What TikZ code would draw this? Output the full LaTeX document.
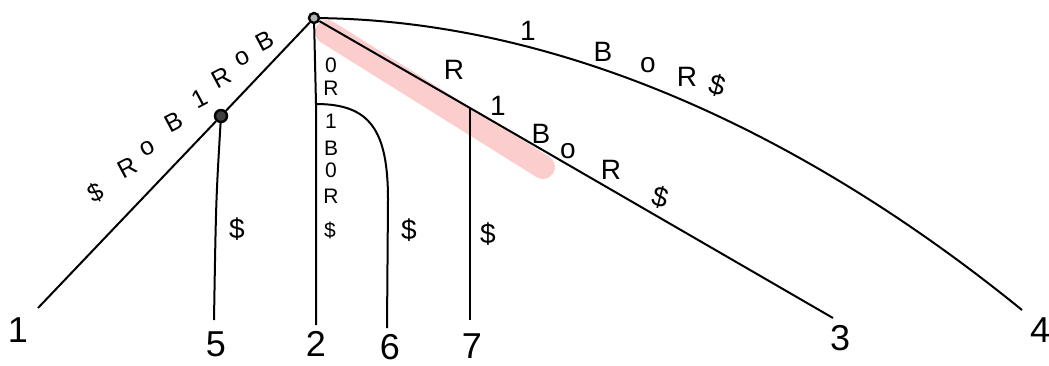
\documentclass[tikz,border=0pt]{standalone}
\usepackage{fontspec}
\setmainfont{Liberation Sans}
\begin{document}
\begin{tikzpicture}[x=1pt,y=-1pt,
  edge/.style={line width=2pt, black},
  lbl/.style={font=\fontsize{28}{30}\selectfont, inner sep=0},
  llbl/.style={font=\fontsize{25}{27}\selectfont, inner sep=0, rotate=28},
  col/.style={font=\fontsize{21}{23}\selectfont, inner sep=0},
  leaf/.style={font=\fontsize{36}{38}\selectfont, inner sep=0},
  inode/.style={circle, draw, inner sep=0, minimum size=10pt, line width=2.4pt},
  hl/.style={line width=24pt, line cap=round, draw={rgb,255:red,252;green,205;blue,205}}]
\useasboundingbox (0,0) rectangle (1049,365);
\fill[white] (0,0) rectangle (1049,365);
% highlight
\draw[hl] (327,32) -- (543,167);
% nodes
\node[inode, fill=black!30] (r) at (314,18) {};
\node[inode, fill=black!75, minimum size=12pt] (a) at (221,116) {};
\coordinate (b) at (316,104);
\coordinate (c) at (470,108);
\coordinate (l1) at (38,308);
\coordinate (l5) at (214,320);
\coordinate (l2) at (316,325);
\coordinate (l6) at (387,328);
\coordinate (l7) at (470,320);
\coordinate (l3) at (833,318);
\coordinate (l4) at (1022,310);
% leaf numbers
\node[leaf] (n1) at (18,330) {1};
\node[leaf] (n5) at (216,344) {5};
\node[leaf] (n2) at (316,344) {2};
\node[leaf] (n6) at (390,347) {6};
\node[leaf] (n7) at (472,346) {7};
\node[leaf] (n3) at (840,338) {3};
\node[leaf] (n4) at (1040,330) {4};
% edges
\draw[edge] (r) -- (a) -- (l1);
\draw[edge] (a) .. controls (216,200) .. (l5);
\draw[edge] (r) -- (b) -- (l2);
\draw[edge] (b) .. controls (370,104) and (388,130) .. (388,200) -- (l6);
\draw[edge] (r) -- (c) -- (l3);
\draw[edge] (c) -- (l7);
\draw[edge] (r) .. controls (600,22) and (850,170) .. (l4);
% left edge labels
\node[llbl] (e1) at (96,193) {\$};
\node[llbl] (e2) at (127,168) {R};
\node[llbl] (e3) at (148,148) {o};
\node[llbl] (e4) at (174,122) {B};
\node[llbl] (e5) at (200,99) {1};
\node[llbl] (e6) at (221,78) {R};
\node[llbl] (e7) at (243,58) {o};
\node[llbl] (e8) at (265,41) {B};
% vertical column labels
\node[col] (v1) at (331,65) {0};
\node[col] (v2) at (331,88) {R};
\node[col] (v3) at (331,121) {1};
\node[col] (v4) at (331,148) {B};
\node[col] (v5) at (331,170) {0};
\node[col] (v6) at (331,196) {R};
\node[col] (v7) at (330,230) {\$};
% dollar labels on leaves
\node[lbl] (d5) at (237,229) {\$};
\node[lbl] (d6) at (409,230) {\$};
\node[lbl] (d7) at (488,234) {\$};
% root to 3 labels
\node[lbl] (f1) at (454,70) {R};
\node[lbl] (f2) at (498,106) {1};
\node[lbl] (f3) at (541,134) {B};
\node[lbl] (f4) at (568,151) {o};
\node[lbl] (f5) at (611,170) {R};
\node[lbl, rotate=-15] (f6) at (660,197) {\$};
% root to 4 labels
\node[lbl] (g1) at (528,31) {1};
\node[lbl] (g2) at (603,52) {B};
\node[lbl] (g3) at (648,65) {o};
\node[lbl] (g4) at (687,77) {R};
\node[lbl, rotate=-15] (g5) at (717,85) {\$};
\end{tikzpicture}
\end{document}
